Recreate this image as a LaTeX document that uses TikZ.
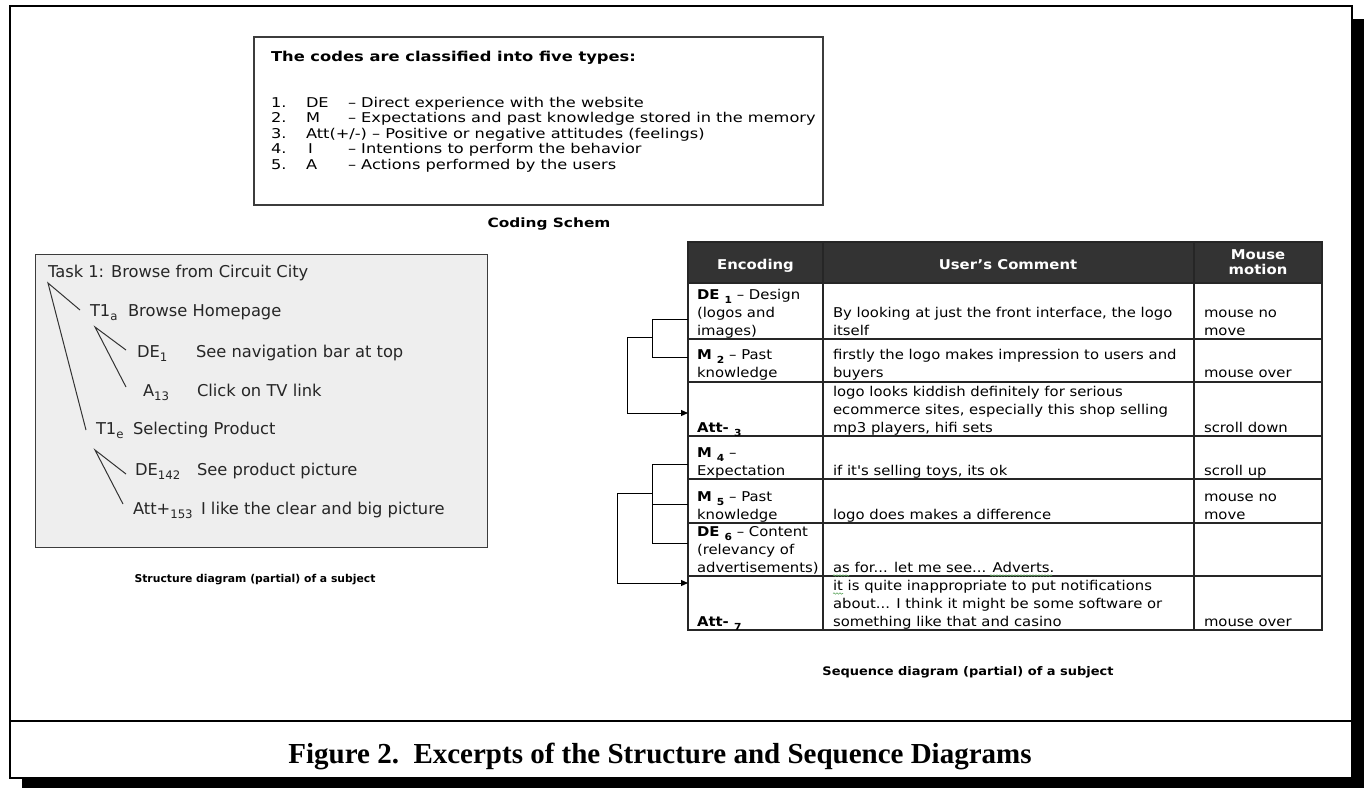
\documentclass[tikz,border=0pt]{standalone}
\usepackage{fontspec}
\setmainfont{Liberation Serif}
\newfontfamily\strf{DejaVu Sans}
\newfontfamily\topf[FakeStretch=1.2]{DejaVu Sans}
\newfontfamily\tabf[FakeStretch=1.1]{DejaVu Sans}
\usetikzlibrary{arrows.meta,decorations.pathmorphing}
\definecolor{boxfill}{RGB}{238,238,238}
\definecolor{frameg}{RGB}{60,60,60}
\definecolor{headfill}{RGB}{51,51,51}
\definecolor{squig}{RGB}{100,170,100}
\newcommand{\sbs}[1]{\raisebox{-0.3em}{\scalebox{0.72}{#1}}}
\begin{document}
\begin{tikzpicture}[x=1pt,y=-1pt,
  txt/.style={anchor=base west, inner sep=0pt, outer sep=0pt},
  toptxt/.style={txt, font=\topf\fontsize{13.5}{13}\selectfont},
  strtxt/.style={txt, font=\strf\fontsize{16.3}{16}\selectfont, text=black!85},
  tabtxt/.style={txt, font=\tabf\fontsize{13.5}{13}\selectfont},
  headtxt/.style={anchor=base, inner sep=0pt, font=\tabf\bfseries\fontsize{13.5}{13}\selectfont, text=white},
  link/.style={line width=1pt, black},
  treeline/.style={line width=1pt, black!80},
  grid/.style={line width=1.2pt, black!85},
  squiggle/.style={squig, line width=0.6pt, decorate, decoration={snake, amplitude=0.7pt, segment length=3pt}}]
\useasboundingbox (0,0) rectangle (1364,788);
% outer frame with shadow
\fill[black] (22,19) rectangle (1364,788);
\node[draw, line width=2pt, fill=white, anchor=north west, inner sep=0pt, minimum width=1342pt, minimum height=772pt] (frame) at (9,5) {};
\draw[line width=2pt] (9,721) -- (1351,721);
\node[anchor=base, inner sep=0pt, font=\bfseries\fontsize{29}{30}\selectfont] (fig) at (660,763) {Figure 2.\ \ Excerpts of the Structure and Sequence Diagrams};

% coding scheme box
\node[draw=frameg, line width=1.5pt, anchor=north west, inner sep=0pt, minimum width=569pt, minimum height=168pt] (codebox) at (253,36) {};
\node[txt, font=\topf\bfseries\fontsize{13.6}{13}\selectfont] (ctitle) at (271,61) {The codes are classified into five types:};
\node[toptxt] (n1) at (271,107) {1.};
\node[toptxt] (c1) at (306,107) {DE};
\node[toptxt] (d1) at (348,107) {– Direct experience with the website};
\node[toptxt] (n2) at (271,122) {2.};
\node[toptxt] (c2) at (306,122) {M};
\node[toptxt] (d2) at (348,122) {– Expectations and past knowledge stored in the memory};
\node[toptxt] (n3) at (271,138) {3.};
\node[toptxt] (c3) at (306,138) {Att(+/-) – Positive or negative attitudes (feelings)};
\node[toptxt] (n4) at (271,153) {4.};
\node[toptxt] (c4) at (308,153) {I};
\node[toptxt] (d4) at (348,153) {– Intentions to perform the behavior};
\node[toptxt] (n5) at (271,169) {5.};
\node[toptxt] (c5) at (306,169) {A};
\node[toptxt] (d5) at (348,169) {– Actions performed by the users};
\node[anchor=base, inner sep=0pt, font=\topf\bfseries\fontsize{12.8}{13}\selectfont] (ccap) at (549,227) {Coding Schem};

% structure diagram
\node[draw=frameg, fill=boxfill, line width=1.2pt, anchor=north west, inner sep=0pt, minimum width=452pt, minimum height=293pt] (sbox) at (35,254) {};
\node[strtxt] (task) at (48,277) {Task 1: Browse from Circuit City};
\node[strtxt] (t1a) at (90,316) {T1\sbs{a}};
\node[strtxt] (t1al) at (128,316) {Browse Homepage};
\node[strtxt] (de1) at (137,357) {DE\sbs{1}};
\node[strtxt] (de1l) at (196,357) {See navigation bar at top};
\node[strtxt] (a13) at (143,396) {A\sbs{13}};
\node[strtxt] (a13l) at (197,396) {Click on TV link};
\node[strtxt] (t1e) at (96,434) {T1\sbs{e}};
\node[strtxt] (t1el) at (133,434) {Selecting Product};
\node[strtxt] (de142) at (135,475) {DE\sbs{142}};
\node[strtxt] (de142l) at (197,475) {See product picture};
\node[strtxt] (att) at (133,514) {Att+\sbs{153}};
\node[strtxt] (attl) at (201,514) {I like the clear and big picture};
\coordinate (r0) at (48,283);
\coordinate (ta) at (80,310);
\coordinate (te) at (86,430);
\coordinate (r1) at (95,327);
\coordinate (xd1) at (126,350);
\coordinate (xa13) at (126,387);
\coordinate (r2) at (95,450);
\coordinate (xd142) at (126,474);
\coordinate (xatt) at (123,504);
\draw[treeline] (ta) -- (r0) -- (te);
\draw[treeline] (xd1) -- (r1) -- (xa13);
\draw[treeline] (xd142) -- (r2) -- (xatt);
\node[anchor=base, inner sep=0pt, font=\strf\bfseries\fontsize{10.8}{11}\selectfont] (scap) at (255,582) {Structure diagram (partial) of a subject};

% sequence table
\fill[headfill] (688,242) rectangle (1322,283);
\draw[grid] (688,242) rectangle (1322,630);
\foreach \yy in {283,339,382,436,479,523,576} \draw[grid] (688,\yy) -- (1322,\yy);
\draw[grid] (823,242) -- (823,630);
\draw[grid] (1194,242) -- (1194,630);
\node[headtxt] (h1) at (755.5,269) {Encoding};
\node[headtxt] (h2) at (1008,269) {User’s Comment};
\node[headtxt] (h3a) at (1258,259) {Mouse};
\node[headtxt] (h3b) at (1258,274) {motion};
% row 1
\node[tabtxt] (r1a) at (697,299) {\bfseries DE \sbs{1}\mdseries\ – Design};
\node[tabtxt] (r1b) at (697,317) {(logos and};
\node[tabtxt] (r1c) at (697,335) {images)};
\node[tabtxt] (r1d) at (833,317) {By looking at just the front interface, the logo};
\node[tabtxt] (r1e) at (833,335) {itself};
\node[tabtxt] (r1f) at (1204,317) {mouse no};
\node[tabtxt] (r1g) at (1204,335) {move};
% row 2
\node[tabtxt] (r2a) at (697,359) {\bfseries M \sbs{2}\mdseries\ – Past};
\node[tabtxt] (r2b) at (697,377) {knowledge};
\node[tabtxt] (r2c) at (833,359) {firstly the logo makes impression to users and};
\node[tabtxt] (r2d) at (833,377) {buyers};
\node[tabtxt] (r2e) at (1204,377) {mouse over};
% row 3
\node[tabtxt] (r3a) at (697,432) {\bfseries Att- \sbs{3}};
\node[tabtxt] (r3b) at (833,396) {logo looks kiddish definitely for serious};
\node[tabtxt] (r3c) at (833,414) {ecommerce sites, especially this shop selling};
\node[tabtxt] (r3d) at (833,432) {mp3 players, hifi sets};
\node[tabtxt] (r3e) at (1204,432) {scroll down};
% row 4
\node[tabtxt] (r4a) at (697,457) {\bfseries M \sbs{4}\mdseries\ –};
\node[tabtxt] (r4b) at (697,475) {Expectation};
\node[tabtxt] (r4c) at (833,475) {if it's selling toys, its ok};
\node[tabtxt] (r4d) at (1204,475) {scroll up};
% row 5
\node[tabtxt] (r5a) at (697,501) {\bfseries M \sbs{5}\mdseries\ – Past};
\node[tabtxt] (r5b) at (697,519) {knowledge};
\node[tabtxt] (r5c) at (833,519) {logo does makes a difference};
\node[tabtxt] (r5d) at (1204,501) {mouse no};
\node[tabtxt] (r5e) at (1204,519) {move};
% row 6
\node[tabtxt] (r6a) at (697,536) {\bfseries DE \sbs{6}\mdseries\ – Content};
\node[tabtxt] (r6b) at (697,554) {(relevancy of};
\node[tabtxt] (r6c) at (697,572) {advertisements)};
\node[tabtxt] (r6d) at (833,572) {as for... let me see... Adverts.};
% row 7
\node[tabtxt] (r7a) at (697,626) {\bfseries Att- \sbs{7}};
\node[tabtxt] (r7b) at (833,590) {it is quite inappropriate to put notifications};
\node[tabtxt] (r7c) at (833,608) {about... I think it might be some software or};
\node[tabtxt] (r7d) at (833,626) {something like that and casino};
\node[tabtxt] (r7e) at (1204,626) {mouse over};
% spell-check squiggles
\draw[squiggle] (833,575.5) -- (849,575.5);
\draw[squiggle] (990,575.5) -- (1052,575.5);
\draw[squiggle] (833,593.5) -- (843,593.5);

% bracket connectors
\coordinate (e1) at (688,319);
\coordinate (e2) at (688,357);
\coordinate (e3) at (688,413);
\coordinate (b1) at (652,337);
\coordinate (k1) at (627,337);
\draw[link] (e1) -| (b1) |- (e2);
\draw[link, -{Triangle[length=7pt,width=6pt]}] (b1) -- (k1) |- (e3);
\coordinate (e4) at (688,464);
\coordinate (e5) at (688,504);
\coordinate (e6) at (688,543);
\coordinate (e7) at (688,583);
\coordinate (b2) at (652,493);
\coordinate (k2) at (617,493);
\draw[link] (e4) -| (b2) |- (e6);
\draw[link] (b2 |- e5) -- (e5);
\draw[link, -{Triangle[length=7pt,width=6pt]}] (b2) -- (k2) |- (e7);
\node[anchor=base, inner sep=0pt, font=\tabf\bfseries\fontsize{11.8}{12}\selectfont] (qcap) at (968,675) {Sequence diagram (partial) of a subject};
\end{tikzpicture}
\end{document}
